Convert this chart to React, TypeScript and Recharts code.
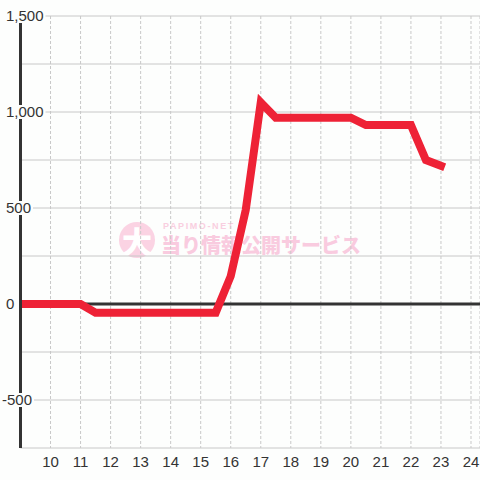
import React from 'react';
import { LineChart, Line, XAxis, YAxis, CartesianGrid, ReferenceLine } from 'recharts';

// half-hour samples of the machine's coin difference
const hours = [9, 9.5, 10, 10.5, 11, 11.5, 12, 12.5, 13, 13.5, 14, 14.5, 15, 15.5, 16, 16.5, 17, 17.5, 18, 18.5, 19, 19.5, 20, 20.5, 21, 21.5, 22, 22.5, 23];
const diff = [0, 0, 0, 0, 0, -45, -45, -45, -45, -45, -45, -45, -45, -45, 145, 490, 1050, 970, 970, 970, 970, 970, 970, 932, 932, 932, 932, 750, 720];
const hourTicks = [10, 11, 12, 13, 14, 15, 16, 17, 18, 19, 20, 21, 22, 23, 24];
const diffTicks = [-750, -500, -250, 0, 250, 500, 750, 1000, 1250, 1500];

const data = hours.map((h, i) => ({ hour: h, diff: diff[i] }));

const BG = '#fdfefd';
const FONT = '"Liberation Sans", Arial, sans-serif';

const charWidth = (c: string) => (c === ',' ? 4.17 : c === '-' ? 5 : 8.34);

// y labels sit inside the plot on a background patch that hides the axis and grid
const YTick = ({ y, payload }: any) => {
  const v = payload.value as number;
  if (v % 500 !== 0) return <g />;
  const label = v.toLocaleString('en-US');
  const w = label.split('').reduce((s, c) => s + charWidth(c), 0);
  const left = v < 0 ? 2 : 6;
  return (
    <g>
      <rect x={left - 1} y={y - 7} width={w + 3} height={14} fill={BG} />
      <text x={left} y={y} dy="0.36em" textAnchor="start" fontSize={15} fill="#333" fontFamily={FONT}>
        {label}
      </text>
    </g>
  );
};

const Watermark = () => (
  <div style={{ position: 'absolute', left: 119, top: 218, width: 260, height: 44, pointerEvents: 'none' }}>
    <div
      style={{
        position: 'absolute', left: 0, top: 4, width: 36, height: 36, borderRadius: '50%',
        background: '#fbd3e3', color: '#fff', fontSize: 30, fontWeight: 900, lineHeight: '36px',
        textAlign: 'center', fontFamily: '"Noto Sans CJK JP", sans-serif',
      }}
    >
      大
    </div>
    <div
      style={{
        position: 'absolute', left: 44, top: 4, fontSize: 9, fontWeight: 700, letterSpacing: 1.6,
        color: '#f9cfe0', fontFamily: FONT, lineHeight: '9px',
      }}
    >
      PAPIMO-NET
    </div>
    <div
      style={{
        position: 'absolute', left: 42, top: 17, fontSize: 20, fontWeight: 900, color: '#f9cbdf',
        fontFamily: '"Noto Sans CJK JP", sans-serif', lineHeight: '20px', whiteSpace: 'nowrap',
      }}
    >
      当り情報公開サービス
    </div>
  </div>
);

export default function App() {
  return (
    <div style={{ position: 'fixed', left: 0, top: 0, width: 480, height: 480, background: BG, overflow: 'hidden' }}>
      <Watermark />
      <div style={{ position: 'absolute', left: 0, top: 0 }}>
        <LineChart width={480} height={480} data={data} margin={{ top: 16, right: 0, bottom: 0, left: 0.5 }}>
          <CartesianGrid horizontal={true} vertical={false} stroke="#c8c8c8" />
          <CartesianGrid horizontal={false} vertical={true} stroke="#c8c8c8" strokeDasharray="3 2" />
          <XAxis
            dataKey="hour"
            type="number"
            domain={[9, 24.3]}
            ticks={hourTicks}
            allowDataOverflow
            axisLine={false}
            tickLine={false}
            height={32}
            tick={{ fontSize: 15, fill: '#333', fontFamily: FONT }}
          />
          <ReferenceLine y={0} stroke="#333" strokeWidth={3} />
          <YAxis
            type="number"
            domain={[-750, 1500]}
            ticks={diffTicks}
            width={20}
            tickLine={false}
            axisLine={{ stroke: '#333', strokeWidth: 3 }}
            tick={<YTick />}
            interval={0}
          />
          <Line
            type="linear"
            dataKey="diff"
            stroke="#ee2236"
            strokeWidth={8}
            strokeLinejoin="miter"
            strokeLinecap="square"
            dot={false}
            activeDot={false}
            isAnimationActive={false}
          />
        </LineChart>
      </div>
    </div>
  );
}
